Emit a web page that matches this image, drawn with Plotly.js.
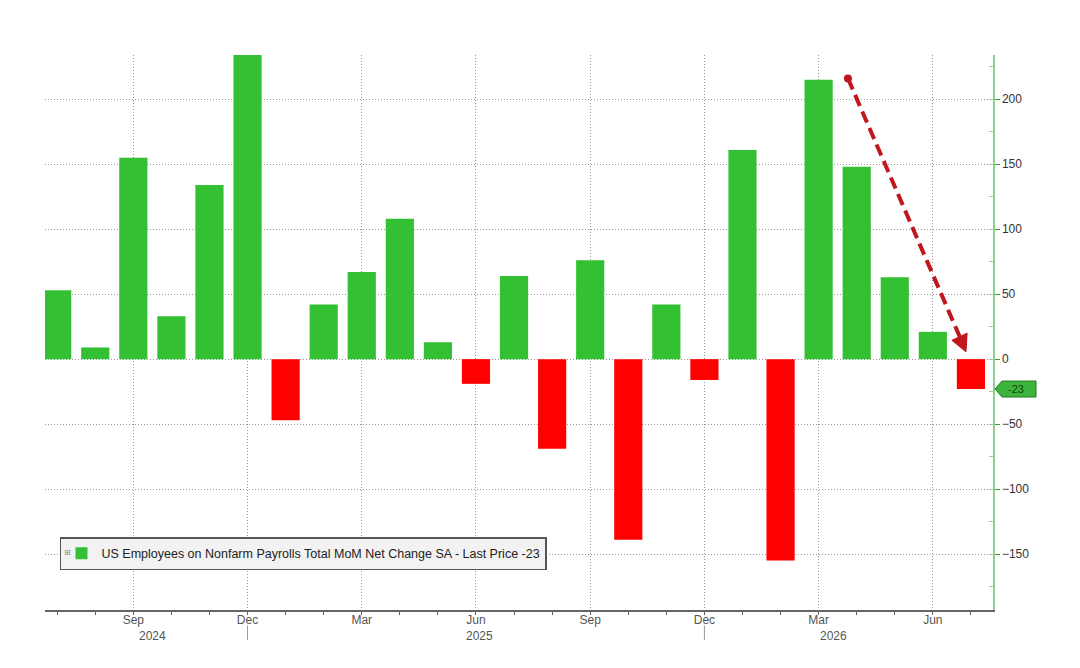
<!DOCTYPE html>
<html>
<head>
<meta charset="utf-8">
<script src="https://cdn.plot.ly/plotly-3.0.1.min.js"></script>
<style>html,body{margin:0;padding:0;background:#fff;}#chart{width:1080px;height:668px;}</style>
</head>
<body>
<div id="chart"></div>
<script>
// Months (Jul 2024 .. Jul 2026)
var months = ["Jul 2024","Aug 2024","Sep 2024","Oct 2024","Nov 2024","Dec 2024",
  "Jan 2025","Feb 2025","Mar 2025","Apr 2025","May 2025","Jun 2025",
  "Jul 2025","Aug 2025","Sep 2025","Oct 2025","Nov 2025","Dec 2025",
  "Jan 2026","Feb 2026","Mar 2026","Apr 2026","May 2026","Jun 2026","Jul 2026"];
// MoM net change (thousands)
var values = [53, 9, 155, 33, 134, 234,
  -47, 42, 67, 108, 13, -19,
  64, -69, 76, -139, 42, -16,
  161, -155, 215, 148, 63, 21, -23];
var tickMonths = ["Sep 2024","Dec 2024","Mar 2025","Jun 2025","Sep 2025","Dec 2025","Mar 2026","Jun 2026"];
var tickLabels = ["Sep","Dec","Mar","Jun","Sep","Dec","Mar","Jun"];
var yearLabels = ["2024","2025","2026"];
var yearLabelMonths = ["Sep 2024","Jun 2025","Mar 2026"];
var yearSepMonths = ["Dec 2024","Dec 2025"];
var seriesName = "US Employees on Nonfarm Payrolls Total MoM Net Change SA - Last Price -23";
var lastValue = -23;

var GREEN = "#33c133", RED = "#ff0000";
var xIdx = months.map(function(m, i){ return i; });
var colors = values.map(function(v){ return v >= 0 ? GREEN : RED; });
var xmin = -0.32, xmax = 24.58, ymin = -193, ymax = 234;
function xp(i){ return (i - xmin) / (xmax - xmin); }
function yp(v){ return (v - ymin) / (ymax - ymin); }

var trace = {
  type: "bar", x: xIdx, y: values, name: seriesName,
  marker: {color: colors, line: {width: 0}}, width: 0.74,
  hoverinfo: "x+y", showlegend: true
};

var annotations = [];
yearLabels.forEach(function(t, k){
  annotations.push({xref: "paper", yref: "paper", x: xp(months.indexOf(yearLabelMonths[k]) + (k === 2 ? 0.8 : 0.1)), y: -0.046,
    text: t, showarrow: false, font: {family: "Liberation Sans, Arial, sans-serif", size: 12, color: "#555"}, yanchor: "middle"});
});
// last value tag
annotations.push({xref: "paper", yref: "paper", x: 1.024, y: yp(lastValue), text: String(lastValue),
  showarrow: false, font: {family: "Liberation Sans, Arial, sans-serif", size: 11, color: "#0b4a0b"}, xanchor: "center", yanchor: "middle"});
// legend icon
annotations.push({xref: "paper", yref: "paper", x: 0.0235, y: 0.104, text: "⊞", showarrow: false,
  font: {family: "DejaVu Sans", size: 8, color: "#888"}, xanchor: "center", yanchor: "middle"});

var shapes = [];
yearSepMonths.forEach(function(m){
  var p = xp(months.indexOf(m));
  shapes.push({type: "line", xref: "paper", yref: "paper", x0: p, x1: p, y0: -0.028, y1: -0.054, line: {color: "#999", width: 1}});
});
// tag shape
var ty = yp(lastValue), th = 8 / 555;
var px1 = 1 + 2/948, px2 = 1 + 9/948, px3 = 1 + 43/948;
shapes.push({type: "path", xref: "paper", yref: "paper",
  path: "M " + px1 + "," + ty + " L " + px2 + "," + (ty + th) + " L " + px3 + "," + (ty + th) + " L " + px3 + "," + (ty - th) + " L " + px2 + "," + (ty - th) + " Z",
  fillcolor: "#3cb43c", line: {color: "#237a23", width: 1}});
// dashed trend arrow
var AR = "#c0161e";
shapes.push({type: "line", xref: "x", yref: "y", x0: 20.77, y0: 216, x1: 23.71, y1: 17, line: {color: AR, width: 4, dash: "12px,6px"}});
shapes.push({type: "circle", xref: "x", yref: "y", xsizemode: "pixel", ysizemode: "pixel", xanchor: 20.77, yanchor: 216,
  x0: -4, x1: 4, y0: -4, y1: 4, fillcolor: AR, line: {width: 0}});
shapes.push({type: "path", xref: "x", yref: "y", path: "M 23.87,5.6 L 23.90,20 L 23.50,14.5 Z", fillcolor: AR, line: {color: AR, width: 1}});

var layout = {
  width: 1080, height: 668,
  margin: {l: 45, r: 87, t: 55, b: 58, pad: 0},
  paper_bgcolor: "#ffffff", plot_bgcolor: "#ffffff",
  font: {family: "Liberation Sans, Arial, sans-serif", size: 12, color: "#444"},
  bargap: 0.26,
  xaxis: {
    range: [xmin, xmax], showline: true, linecolor: "#666", linewidth: 1.5,
    tickmode: "array", tickvals: tickMonths.map(function(m){ return months.indexOf(m); }), ticktext: tickLabels,
    ticks: "outside", ticklen: 3, tickcolor: "#666", ticklabelstandoff: -5,
    showgrid: true, gridcolor: "#9a9a9a", griddash: "1px,2px", gridwidth: 1,
    zeroline: false, tickfont: {size: 12, color: "#555"},
    minor: {tickmode: "linear", tick0: 0, dtick: 1, ticks: "outside", ticklen: 3, tickcolor: "#666", showgrid: false}
  },
  yaxis: {
    range: [ymin, ymax], side: "right", showline: true, linecolor: "#8fd08f", linewidth: 1.5,
    tickmode: "linear", tick0: 0, dtick: 50, ticks: "outside", ticklen: 5, tickcolor: "#3a9a3a",
    showgrid: true, gridcolor: "#9a9a9a", griddash: "1px,2px", gridwidth: 1,
    zeroline: false, tickfont: {size: 12, color: "#333"},
    minor: {tick0: 0, dtick: 25, ticks: "inside", ticklen: 4, tickcolor: "#8fd08f", showgrid: false}
  },
  showlegend: true,
  legend: {x: 0.0158, y: 0.1315, xanchor: "left", yanchor: "top", bgcolor: "#f2f2f2", bordercolor: "#555", borderwidth: 1.5,
    font: {size: 12.5, color: "#222"}, itemwidth: 30},
  annotations: annotations,
  shapes: shapes
};
Plotly.newPlot("chart", [trace], layout, {displayModeBar: false, staticPlot: true});
</script>
</body>
</html>
